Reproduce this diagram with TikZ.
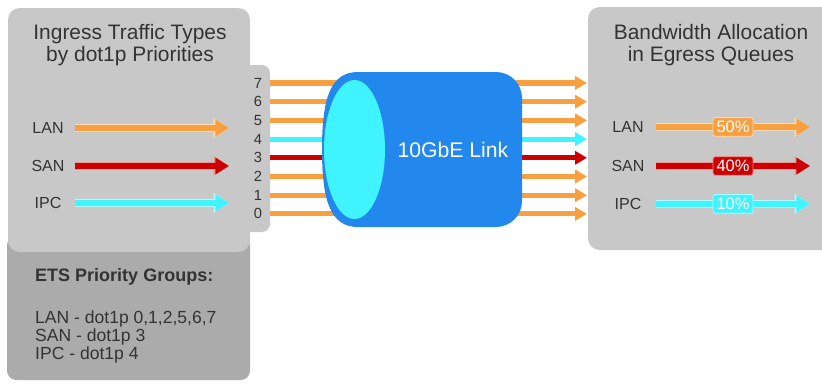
\documentclass[tikz,border=0pt]{standalone}
\usepackage{fontspec}
\setmainfont{Liberation Sans}
\usetikzlibrary{arrows.meta}
\definecolor{lanor}{HTML}{F8A040}
\definecolor{sanred}{HTML}{CC0000}
\definecolor{ipccy}{HTML}{40F4FF}
\definecolor{linkblue}{HTML}{2288EE}
\definecolor{panelgray}{HTML}{C8C8C8}
\definecolor{groupgray}{HTML}{ABABAB}
\definecolor{ink}{HTML}{333333}
\tikzset{
    title/.style={text=ink, align=center, font=\fontsize{17.8}{19}\selectfont},
    tlabel/.style={text=ink, font=\fontsize{13.6}{15}\selectfont},
    prio/.style={text=ink, inner sep=0pt, font=\fontsize{12.5}{13}\selectfont},
    flow/.style={draw=#1, line width=5pt, -{Triangle[length=11.5pt,width=13.5pt]},
                 preaction={draw=#1!40!white, line width=6.6pt, -{Triangle[length=13pt,width=15.8pt]}}},
    lane/.style={draw=#1, line width=4.3pt, -{Triangle[length=10pt,width=11pt]}},
    pct/.style={fill=#1, draw=#1!45!white, line width=0.8pt, rounded corners=2pt,
                text=white, minimum width=34pt, minimum height=16pt, inner sep=1pt,
                font=\fontsize{14}{14}\selectfont},
}

\begin{document}
\begin{tikzpicture}[x=0.85pt, y=-0.85pt]
    \clip (0,0) rectangle (822,383);
    % panels
    \fill[groupgray, rounded corners=8pt] (7,236) rectangle (250,380);
    \fill[panelgray, rounded corners=7pt] (240,65) rectangle (270,232);
    \fill[panelgray, rounded corners=10pt] (8,8) rectangle (250,252);
    \fill[panelgray, rounded corners=10pt] (588,7) rectangle (840,250);

    \node[title] (ingress) at (130,45) {Ingress Traffic Types\\by dot1p Priorities};
    \node[title] (egress)  at (711,45) {Bandwidth Allocation\\in Egress Queues};

    % ingress traffic types
    \node[tlabel] (lanin) at (48,128) {LAN};
    \node[tlabel] (sanin) at (48,166) {SAN};
    \node[tlabel] (ipcin) at (48,203) {IPC};
    \coordinate (lanin s) at (75,128);  \coordinate (lanin e) at (229,128);
    \coordinate (sanin s) at (75,166);  \coordinate (sanin e) at (229,166);
    \coordinate (ipcin s) at (75,203);  \coordinate (ipcin e) at (229,203);
    \draw[flow=lanor]  (lanin s) -- (lanin e);
    \draw[flow=sanred] (sanin s) -- (sanin e);
    \draw[flow=ipccy]  (ipcin s) -- (ipcin e);

    % dot1p priorities through the link
    \foreach \i/\c in {7/lanor,6/lanor,5/lanor,4/ipccy,3/sanred,2/lanor,1/lanor,0/lanor}{
        \node[prio] (p\i) at (258,{83+(7-\i)*18.7}) {\i};
        \coordinate (s\i) at (270,{83+(7-\i)*18.7});
        \coordinate (e\i) at (587,{83+(7-\i)*18.7});
        \draw[lane=\c] (s\i) -- (e\i);
    }

    % 10GbE link
    \fill[linkblue] (358,227) .. controls (330,227) and (322,200) .. (322,149.5)
        .. controls (322,99) and (330,72) .. (358,72)
        -- (496,72) arc[start angle=270, end angle=360, radius=26]
        -- (522,201) arc[start angle=0, end angle=90, radius=26] -- cycle;
    \fill[ipccy] (354.5,149.5) ellipse[x radius=30.5, y radius=69.5];
    \node[text=white, font=\fontsize{18}{20}\selectfont] (link) at (453,150) {10GbE Link};

    % egress queues
    \node[tlabel] (laneg) at (628,127) {LAN};
    \node[tlabel] (saneg) at (628,166) {SAN};
    \node[tlabel] (ipceg) at (628,204) {IPC};
    \coordinate (laneg s) at (656,127);  \coordinate (laneg e) at (810,127);
    \coordinate (saneg s) at (656,166);  \coordinate (saneg e) at (810,166);
    \coordinate (ipceg s) at (656,204);  \coordinate (ipceg e) at (810,204);
    \draw[flow=lanor]  (laneg s) -- (laneg e);
    \draw[flow=sanred] (saneg s) -- (saneg e);
    \draw[flow=ipccy]  (ipceg s) -- (ipceg e);
    \node[pct=lanor]  (lanpct) at (733,127) {50\%};
    \node[pct=sanred] (sanpct) at (733,166) {40\%};
    \node[pct=ipccy]  (ipcpct) at (733,204) {10\%};

    % priority groups
    \node[anchor=west, text=ink, inner sep=0pt, font=\bfseries\fontsize{15.3}{17}\selectfont]
        (etshead) at (35,277) {ETS Priority Groups:};
    \node[anchor=north west, text=ink, align=left, inner sep=0pt, font=\fontsize{14.9}{14.9}\selectfont]
        (etslist) at (35,311) {LAN - dot1p 0,1,2,5,6,7\\SAN - dot1p 3\\IPC - dot1p 4};
\end{tikzpicture}
\end{document}
